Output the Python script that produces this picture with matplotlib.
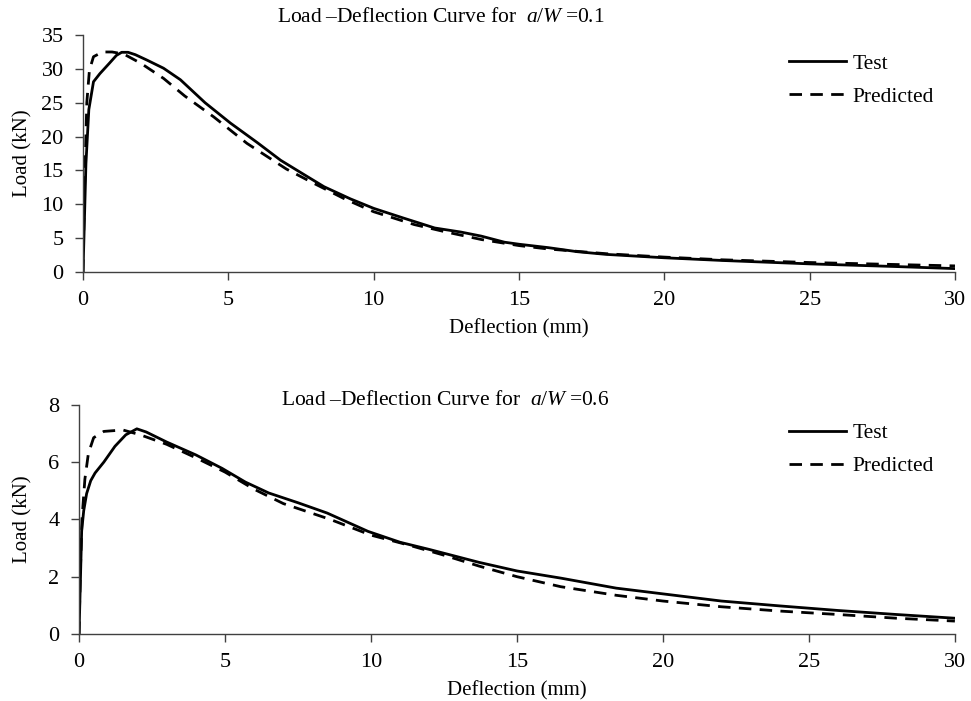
import matplotlib
matplotlib.use("Agg")
import matplotlib.pyplot as plt

plt.rcParams['font.family'] = ['Liberation Serif', 'DejaVu Serif']
plt.rcParams['mathtext.fontset'] = 'custom'
plt.rcParams['mathtext.rm'] = 'Liberation Serif'
plt.rcParams['mathtext.it'] = 'Liberation Serif:italic'

# a/W = 0.1
x_test_1 = [0, 0.05, 0.1, 0.2, 0.36, 0.58, 0.9, 1.15, 1.33, 1.55, 1.8, 2.2, 2.77, 3.35, 4.2, 5.07, 6.0, 6.8, 7.6, 8.29, 9.2, 10.0, 11.0, 12.1, 13.0, 13.7, 14.5, 15.0, 16.0, 17.0, 18.0, 20.0, 22.0, 25.0, 28.0, 30.0]
y_test_1 = [0, 8, 16, 24, 28.1, 29.3, 30.8, 32.0, 32.45, 32.45, 32.1, 31.3, 30.1, 28.4, 25.0, 22.0, 19.1, 16.5, 14.4, 12.6, 10.8, 9.4, 8.0, 6.5, 5.9, 5.3, 4.4, 4.1, 3.6, 3.0, 2.6, 2.1, 1.7, 1.2, 0.8, 0.5]
x_pred_1 = [0, 0.05, 0.13, 0.22, 0.36, 0.67, 1.0, 1.4, 2.0, 2.77, 3.5, 4.5, 5.64, 7.0, 7.94, 9.0, 10.0, 11.4, 12.5, 13.7, 15.0, 16.0, 18.0, 20.0, 22.0, 25.0, 28.0, 30.0]
y_pred_1 = [0, 12, 25, 29.8, 31.8, 32.5, 32.5, 32.2, 30.8, 28.6, 26.0, 22.9, 19.0, 15.2, 13.1, 10.8, 8.9, 7.0, 5.9, 4.8, 3.9, 3.4, 2.7, 2.2, 1.8, 1.4, 1.1, 0.9]

# a/W = 0.6
x_test_6 = [0, 0.04, 0.09, 0.16, 0.26, 0.4, 0.55, 0.85, 1.23, 1.6, 1.98, 2.3, 3.0, 4.0, 4.9, 5.7, 6.5, 7.5, 8.5, 9.9, 11.0, 12.0, 13.7, 15.0, 16.5, 18.4, 20.0, 22.0, 24.0, 26.0, 28.0, 30.0]
y_test_6 = [0, 1.6, 3.6, 4.3, 4.9, 5.35, 5.62, 6.0, 6.55, 6.95, 7.16, 7.05, 6.7, 6.25, 5.78, 5.3, 4.92, 4.58, 4.22, 3.58, 3.2, 2.95, 2.5, 2.2, 1.95, 1.6, 1.4, 1.15, 0.98, 0.82, 0.68, 0.55]
x_pred_6 = [0, 0.04, 0.1, 0.2, 0.32, 0.5, 0.85, 1.5, 2.1, 3.0, 4.0, 5.0, 6.0, 7.0, 8.6, 10.0, 11.3, 12.5, 13.7, 15.0, 16.5, 18.4, 20.0, 22.0, 24.0, 26.0, 28.0, 30.0]
y_pred_6 = [0, 2.0, 4.0, 5.4, 6.3, 6.85, 7.07, 7.12, 6.95, 6.62, 6.15, 5.65, 5.05, 4.55, 4.0, 3.45, 3.1, 2.75, 2.37, 2.0, 1.65, 1.35, 1.15, 0.95, 0.8, 0.68, 0.55, 0.45]

panels = [
    (x_test_1, y_test_1, x_pred_1, y_pred_1, '0.1', 35, range(0, 36, 5),
     [0.0855, 0.612, 0.898, 0.338], 9.5, 0.41),
    (x_test_6, y_test_6, x_pred_6, y_pred_6, '0.6', 8, range(0, 9, 2),
     [0.0814, 0.0956, 0.902, 0.327], 0, 0.418),
]

fig = plt.figure(figsize=(9.71, 7.01), dpi=100)

for xt, yt, xp, yp, aw, ymax, yticks, rect, tpad, tx in panels:
    ax = fig.add_axes(rect)
    ax.plot(xt, yt, color='black', lw=2.0, label='Test')
    ax.plot(xp, yp, color='black', lw=2.0, linestyle=(0, (4.5, 3)), label='Predicted')
    ax.set_xlim(0, 30)
    ax.set_ylim(0, ymax)
    ax.set_xticks(range(0, 31, 5))
    ax.set_yticks(list(yticks))
    for s in ['top', 'right']:
        ax.spines[s].set_visible(False)
    for s in ['left', 'bottom']:
        ax.spines[s].set_color('#404040')
        ax.spines[s].set_linewidth(1.0)
    ax.tick_params(direction='out', length=6, width=1.0, color='#404040',
                   labelsize=16, pad=8)
    ax.set_xlabel('Deflection (mm)', fontsize=15, labelpad=6)
    ax.set_ylabel('Load (kN)', fontsize=15)
    ax.yaxis.set_label_coords((32 - rect[0] * 971) / (rect[2] * 971), 0.5)
    # y given explicitly so the title is not pushed up automatically
    ax.set_title('Load\u2009\u2013Deflection Curve for  $a/W$\u2009=' + aw,
                 fontsize=15.5, pad=tpad, x=tx, y=1.0)
    ax.legend(loc='upper right', frameon=False, fontsize=15.5,
              handlelength=2.65, handletextpad=0.3, labelspacing=0.6,
              borderaxespad=0, bbox_to_anchor=(0.986, 0.958))

fig.savefig('out.png', dpi=100)
